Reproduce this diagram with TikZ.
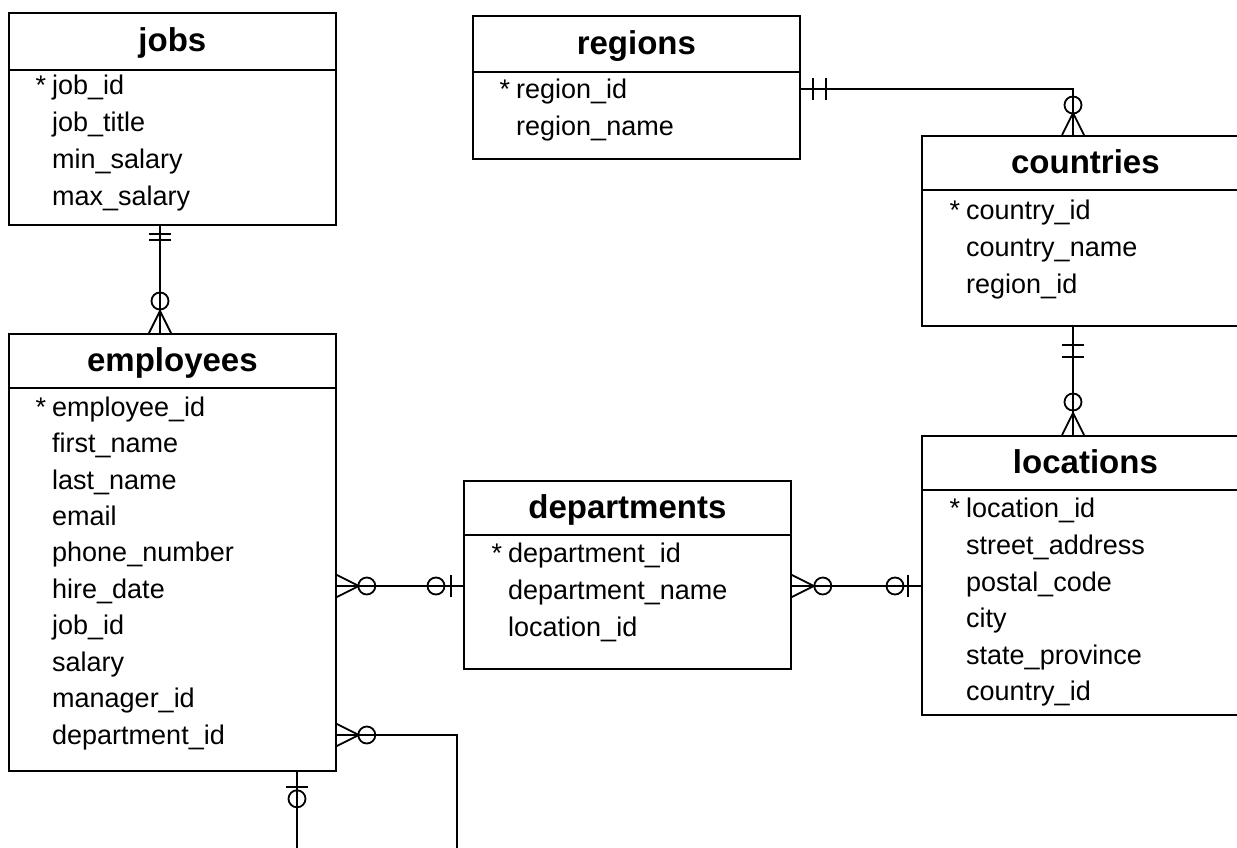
\documentclass[tikz,border=0pt]{standalone}
\usepackage{fontspec}
\setmainfont{Liberation Sans}
\usetikzlibrary{decorations.markings}

\tikzset{
  tbl/.style={draw,line width=1.8pt,rectangle,anchor=north west,inner sep=0pt,minimum width=327},
  ttl/.style={inner sep=0pt,text height=24pt,text depth=2pt,font=\fontsize{33}{40}\selectfont\bfseries},
  fld/.style={anchor=west,inner sep=0pt,text height=20pt,text depth=2pt,font=\fontsize{27}{32}\selectfont},
  rel/.style={line width=1.8pt},
  crowbar/.style={postaction={decorate,decoration={markings,mark=at position #1 with {\draw[line width=1.8pt] (0,-11) -- (0,11);}}}},
  crowring/.style={postaction={decorate,decoration={markings,mark=at position #1 with {\draw[line width=1.8pt] (0,0) circle (8.5);}}}},
  footstart/.style={postaction={decorate,decoration={markings,mark=at position 0 with {\draw[line width=1.8pt] (0,-11) -- (22,0) -- (0,11);}}}},
  footend/.style={postaction={decorate,decoration={markings,mark=at position 1 with {\draw[line width=1.8pt] (0,-11) -- (-22,0) -- (0,11);}}}},
}
\newcommand{\pk}{\llap{*\hspace{6pt}}}

\begin{document}
\begin{tikzpicture}[x=1pt,y=-1pt]
\clip (0,0) rectangle (1237,848);
% tables
%   jobs
    \node[tbl,minimum height=212] (jobs) at (8,12) {};
    \node[ttl] (jobsT) at ([yshift=-29pt]jobs.north) {jobs};
    \draw[line width=1.8pt] ([yshift=-58pt]jobs.north west) -- ([yshift=-58pt]jobs.north east);
    \node[fld] (jobid) at (52,86) {\pk job\_id};
    \node[fld] (jobtitle) at (52,123) {job\_title};
    \node[fld] (minsal) at (52,159) {min\_salary};
    \node[fld] (maxsal) at (52,196) {max\_salary};
%   regions
    \node[tbl,minimum height=143] (regions) at (472,15) {};
    \node[ttl] (regionsT) at ([yshift=-28.5pt]regions.north) {regions};
    \draw[line width=1.8pt] ([yshift=-57pt]regions.north west) -- ([yshift=-57pt]regions.north east);
    \node[fld] (regionid) at (516,90) {\pk region\_id};
    \node[fld] (regionname) at (516,127) {region\_name};
%   countries
    \node[tbl,minimum height=190] (countries) at (921,135) {};
    \node[ttl] (countriesT) at ([yshift=-27.5pt]countries.north) {countries};
    \draw[line width=1.8pt] ([yshift=-55pt]countries.north west) -- ([yshift=-55pt]countries.north east);
    \node[fld] (countryid) at (966,210) {\pk country\_id};
    \node[fld] (countryname) at (966,247) {country\_name};
    \node[fld] (cregionid) at (966,284) {region\_id};
%   employees
    \node[tbl,minimum height=437] (employees) at (8,333) {};
    \node[ttl] (employeesT) at ([yshift=-27.5pt]employees.north) {employees};
    \draw[line width=1.8pt] ([yshift=-55pt]employees.north west) -- ([yshift=-55pt]employees.north east);
    \node[fld] (empid) at (52,407) {\pk employee\_id};
    \node[fld] (firstname) at (52,443) {first\_name};
    \node[fld] (lastname) at (52,480) {last\_name};
    \node[fld] (email) at (52,516) {email};
    \node[fld] (phone) at (52,552) {phone\_number};
    \node[fld] (hiredate) at (52,589) {hire\_date};
    \node[fld] (ejobid) at (52,625) {job\_id};
    \node[fld] (salary) at (52,662) {salary};
    \node[fld] (managerid) at (52,698) {manager\_id};
    \node[fld] (edeptid) at (52,735) {department\_id};
%   departments
    \node[tbl,minimum height=188] (departments) at (463,480) {};
    \node[ttl] (departmentsT) at ([yshift=-27.5pt]departments.north) {departments};
    \draw[line width=1.8pt] ([yshift=-55pt]departments.north west) -- ([yshift=-55pt]departments.north east);
    \node[fld] (deptid) at (508,553) {\pk department\_id};
    \node[fld] (deptname) at (508,590) {department\_name};
    \node[fld] (dlocid) at (508,627) {location\_id};
%   locations
    \node[tbl,minimum height=279] (locations) at (921,435) {};
    \node[ttl] (locationsT) at ([yshift=-27.5pt]locations.north) {locations};
    \draw[line width=1.8pt] ([yshift=-55pt]locations.north west) -- ([yshift=-55pt]locations.north east);
    \node[fld] (locid) at (966,508) {\pk location\_id};
    \node[fld] (street) at (966,545) {street\_address};
    \node[fld] (postal) at (966,582) {postal\_code};
    \node[fld] (city) at (966,618) {city};
    \node[fld] (state) at (966,655) {state\_province};
    \node[fld] (lcountryid) at (966,691) {country\_id};
% relations
    \draw[rel,crowbar=8pt,crowbar=14pt,crowring=-32pt,footend]
      (160,0 |- jobs.south) -- (160,0 |- employees.north);
    \draw[rel,crowbar=12pt,crowbar=25pt,crowring=-30pt,footend]
      (regions.east |- 0,89) -| (1073,0 |- countries.north);
    \draw[rel,crowbar=18pt,crowbar=30pt,crowring=-33pt,footend]
      (1073,0 |- countries.south) -- (1073,0 |- locations.north);
    \draw[rel,footstart,crowring=30pt,crowbar=-12pt,crowring=-27pt]
      (employees.east |- 0,586) -- (departments.west |- 0,586);
    \draw[rel,footstart,crowring=31pt,crowbar=-13pt,crowring=-26pt]
      (departments.east |- 0,586) -- (locations.west |- 0,586);
    \draw[rel,footstart,crowring=30pt,crowbar=-15pt,crowring=-27pt]
      (employees.east |- 0,735) -- (457,735) -- (457,880) -| (297,0 |- employees.south);
\end{tikzpicture}
\end{document}
